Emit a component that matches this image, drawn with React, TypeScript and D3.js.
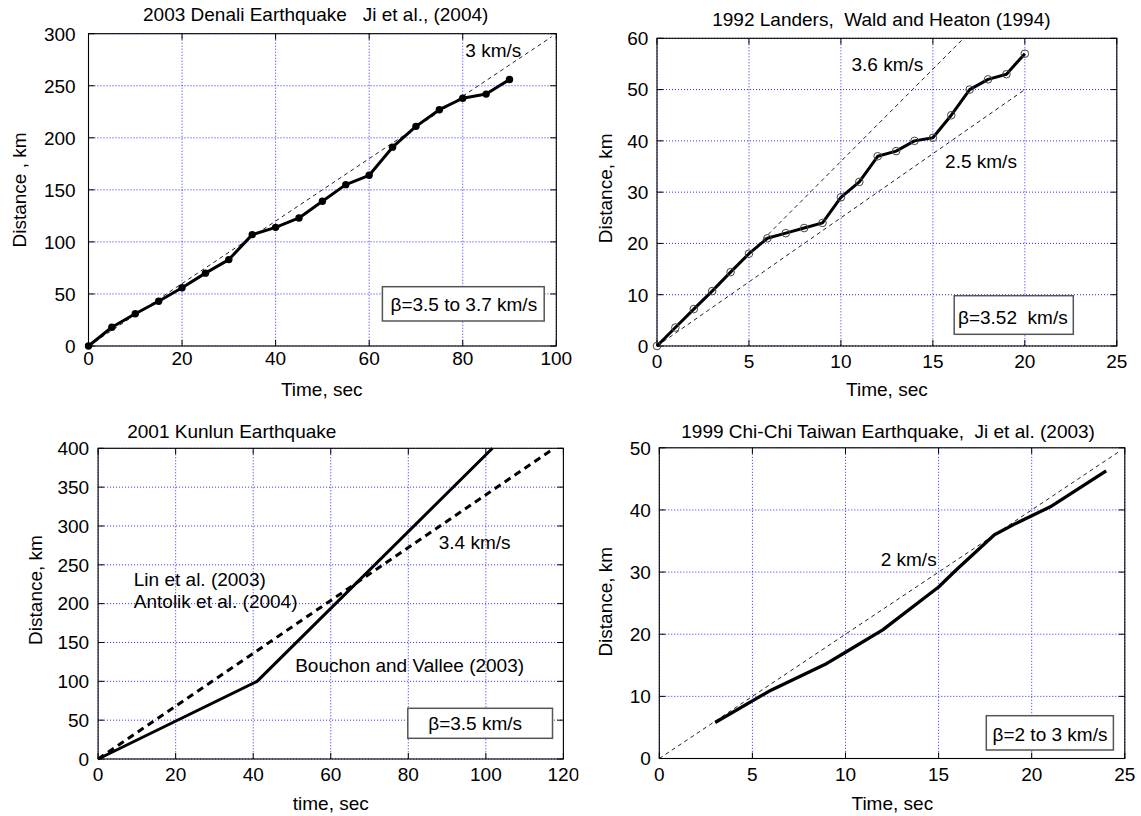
import React from 'react';
import * as d3 from 'd3';

// ---------- Data ----------
// Panel 1: 2003 Denali
const denaliTime = [0, 5, 10, 15, 20, 25, 30, 35, 40, 45, 50, 55, 60, 65, 70, 75, 80, 85, 90];
const denaliDist = [0, 18, 31, 43, 56, 70, 83, 107, 114, 123, 139, 155, 164, 191, 211, 227, 238, 242, 256];
const denaliRefTime = [0, 99];
const denaliRefDist = [0, 297];
const denaliXTicks = [0, 20, 40, 60, 80, 100];
const denaliYTicks = [0, 50, 100, 150, 200, 250, 300];

// Panel 2: 1992 Landers
const landersTime = [0, 1, 2, 3, 4, 5, 6, 7, 8, 9, 10, 11, 12, 13, 14, 15, 16, 17, 18, 19, 20];
const landersDist = [0, 3.6, 7.2, 10.7, 14.4, 18, 21, 22, 23, 24, 29, 32, 37, 38, 40, 40.6, 45, 50, 52, 53, 57];
const landersFastTime = [0, 16.67];
const landersFastDist = [0, 60];
const landersSlowTime = [0, 20];
const landersSlowDist = [0, 50];
const landersXTicks = [0, 5, 10, 15, 20, 25];
const landersYTicks = [0, 10, 20, 30, 40, 50, 60];

// Panel 3: 2001 Kunlun
const bouchonTime = [0, 41, 101.7];
const bouchonDist = [0, 100, 400];
const linTime = [0, 117.6];
const linDist = [0, 400];
const kunlunXTicks = [0, 20, 40, 60, 80, 100, 120];
const kunlunYTicks = [0, 50, 100, 150, 200, 250, 300, 350, 400];

// Panel 4: 1999 Chi-Chi
const chichiTime = [3, 6, 9, 10, 12, 15, 16, 18, 19, 21, 24];
const chichiDist = [5.8, 11, 15.3, 17.1, 20.7, 27.6, 30.5, 36, 37.6, 40.5, 46.3];
const chichiRefTime = [0, 24.7];
const chichiRefDist = [0, 49.4];
const chichiXTicks = [0, 5, 10, 15, 20, 25];
const chichiYTicks = [0, 10, 20, 30, 40, 50];

// ---------- Styling ----------
const FONT = 'Liberation Sans, Arial, Helvetica, sans-serif';
const FS = 19;
const GRID = '#2a2aff';

type Frame = { left: number; right: number; top: number; bottom: number };

function zip(a: number[], b: number[]): [number, number][] {
  return a.map((v, i) => [v, b[i]] as [number, number]);
}

function Txt(props: { x: number; y: number; anchor?: string; rotate?: boolean; children: any; size?: number }) {
  const { x, y, anchor = 'start', rotate = false, children, size = FS } = props;
  return (
    <text
      transform={rotate ? `translate(${x},${y}) rotate(-90)` : `translate(${x},${y})`}
      textAnchor={anchor as any}
      fontFamily={FONT}
      fontSize={size}
      fill="#000"
    >
      {children}
    </text>
  );
}

function Axes(props: {
  f: Frame;
  x: d3.ScaleLinear<number, number>;
  y: d3.ScaleLinear<number, number>;
  xTicks: number[];
  yTicks: number[];
  yTickRight: number;
  xTickBaseline: number;
}) {
  const { f, x, y, xTicks, yTicks, yTickRight, xTickBaseline } = props;
  const tl = 6;
  return (
    <g>
      {xTicks.map((t) => (
        <line key={'gx' + t} x1={x(t)} x2={x(t)} y1={f.top} y2={f.bottom} stroke={GRID} strokeWidth={1} strokeDasharray="1,2" />
      ))}
      {yTicks.map((t) => (
        <line key={'gy' + t} x1={f.left} x2={f.right} y1={y(t)} y2={y(t)} stroke={GRID} strokeWidth={1} strokeDasharray="1,2" />
      ))}
      <rect x={f.left} y={f.top} width={f.right - f.left} height={f.bottom - f.top} fill="none" stroke="#000" strokeWidth={1.1} />
      {xTicks.map((t) => (
        <g key={'tx' + t}>
          <line x1={x(t)} x2={x(t)} y1={f.bottom} y2={f.bottom - tl} stroke="#000" strokeWidth={1} />
          <line x1={x(t)} x2={x(t)} y1={f.top} y2={f.top + tl} stroke="#000" strokeWidth={1} />
        </g>
      ))}
      {yTicks.map((t) => (
        <g key={'ty' + t}>
          <line x1={f.left} x2={f.left + tl} y1={y(t)} y2={y(t)} stroke="#000" strokeWidth={1} />
          <line x1={f.right} x2={f.right - tl} y1={y(t)} y2={y(t)} stroke="#000" strokeWidth={1} />
        </g>
      ))}
      {xTicks.map((t) => (
        <Txt key={'lx' + t} x={x(t)} y={xTickBaseline} anchor="middle">{String(t)}</Txt>
      ))}
      {yTicks.map((t) => (
        <Txt key={'ly' + t} x={yTickRight} y={y(t) + 6.8} anchor="end">{String(t)}</Txt>
      ))}
    </g>
  );
}

function NoteBox(props: { x0: number; x1: number; y0: number; y1: number; tx: number; ty: number; text: string }) {
  const { x0, x1, y0, y1, tx, ty, text } = props;
  return (
    <g>
      <rect x={x0} y={y0} width={x1 - x0} height={y1 - y0} fill="#fff" stroke="#555" strokeWidth={1.5} />
      <Txt x={tx} y={ty}>{text}</Txt>
    </g>
  );
}

export default function App() {
  // Panel 1
  const f1: Frame = { left: 88.5, right: 556.3, top: 33.7, bottom: 346 };
  const x1 = d3.scaleLinear().domain([0, 100]).range([f1.left, f1.right]);
  const y1 = d3.scaleLinear().domain([0, 300]).range([f1.bottom, f1.top]);
  const l1 = d3.line<[number, number]>().x((d) => x1(d[0])).y((d) => y1(d[1]));

  // Panel 2
  const f2: Frame = { left: 657, right: 1116.8, top: 38.3, bottom: 346 };
  const x2 = d3.scaleLinear().domain([0, 25]).range([f2.left, f2.right]);
  const y2 = d3.scaleLinear().domain([0, 60]).range([f2.bottom, f2.top]);
  const l2 = d3.line<[number, number]>().x((d) => x2(d[0])).y((d) => y2(d[1]));

  // Panel 3
  const f3: Frame = { left: 98.1, right: 563.4, top: 448.3, bottom: 759 };
  const x3 = d3.scaleLinear().domain([0, 120]).range([f3.left, f3.right]);
  const y3 = d3.scaleLinear().domain([0, 400]).range([f3.bottom, f3.top]);
  const l3 = d3.line<[number, number]>().x((d) => x3(d[0])).y((d) => y3(d[1]));

  // Panel 4
  const f4: Frame = { left: 659.3, right: 1124.8, top: 447.8, bottom: 758.5 };
  const x4 = d3.scaleLinear().domain([0, 25]).range([f4.left, f4.right]);
  const y4 = d3.scaleLinear().domain([0, 50]).range([f4.bottom, f4.top]);
  const l4 = d3.line<[number, number]>().x((d) => x4(d[0])).y((d) => y4(d[1]));

  return (
    <svg width={1141} height={816} style={{ position: 'absolute', left: 0, top: 0, background: '#fff' }}>
      <defs>
        <clipPath id="clip3">
          <rect x={0} y={400} width={578.5} height={416} />
        </clipPath>
      </defs>

      {/* ---------- Panel 1 ---------- */}
      <Axes f={f1} x={x1} y={y1} xTicks={denaliXTicks} yTicks={denaliYTicks} yTickRight={75.6} xTickBaseline={365} />
      <path d={l1(zip(denaliRefTime, denaliRefDist)) || ''} fill="none" stroke="#222" strokeWidth={1} strokeDasharray="4,3.5" />
      <path d={l1(zip(denaliTime, denaliDist)) || ''} fill="none" stroke="#000" strokeWidth={3} strokeLinejoin="round" />
      {denaliTime.map((t, i) => (
        <circle key={'d' + i} cx={x1(t)} cy={y1(denaliDist[i])} r={3.7} fill="#000" />
      ))}
      <NoteBox x0={382.4} x1={544.2} y0={286.7} y1={321} tx={390.5} ty={310.5} text="β=3.5 to 3.7 km/s" />
      <Txt x={465.3} y={56.5}>3 km/s</Txt>
      <Txt x={315.7} y={20.5} anchor="middle">{'2003 Denali Earthquake\u00a0\u00a0\u00a0Ji et al., (2004)'}</Txt>
      <Txt x={321.7} y={396} anchor="middle">Time, sec</Txt>
      <Txt x={26} y={190} anchor="middle" rotate>Distance , km</Txt>

      {/* ---------- Panel 2 ---------- */}
      <Axes f={f2} x={x2} y={y2} xTicks={landersXTicks} yTicks={landersYTicks} yTickRight={648.3} xTickBaseline={368.3} />
      <path d={l2(zip(landersFastTime, landersFastDist)) || ''} fill="none" stroke="#222" strokeWidth={1} strokeDasharray="4,3.5" />
      <path d={l2(zip(landersSlowTime, landersSlowDist)) || ''} fill="none" stroke="#222" strokeWidth={1} strokeDasharray="4,3.5" />
      <path d={l2(zip(landersTime, landersDist)) || ''} fill="none" stroke="#000" strokeWidth={3} strokeLinejoin="round" />
      {landersTime.map((t, i) => (
        <circle key={'l' + i} cx={x2(t)} cy={y2(landersDist[i])} r={3.8} fill="none" stroke="#444" strokeWidth={1} />
      ))}
      <NoteBox x0={954.2} x1={1073.3} y0={295.7} y1={334.3} tx={958} ty={324} text={'β=3.52\u00a0\u00a0km/s'} />
      <Txt x={851.5} y={70.5}>3.6 km/s</Txt>
      <Txt x={945.1} y={168.3}>2.5 km/s</Txt>
      <Txt x={881.4} y={25.5} anchor="middle">{'1992 Landers,\u00a0\u00a0Wald and Heaton (1994)'}</Txt>
      <Txt x={886.9} y={396} anchor="middle">Time, sec</Txt>
      <Txt x={611.5} y={188.3} anchor="middle" rotate>Distance, km</Txt>

      {/* ---------- Panel 3 ---------- */}
      <g clipPath="url(#clip3)">
        <Axes f={f3} x={x3} y={y3} xTicks={kunlunXTicks} yTicks={kunlunYTicks} yTickRight={89.1} xTickBaseline={781} />
      </g>
      <path d={l3(zip(linTime, linDist)) || ''} fill="none" stroke="#000" strokeWidth={3} strokeDasharray="7,5" />
      <path d={l3(zip(bouchonTime, bouchonDist)) || ''} fill="none" stroke="#000" strokeWidth={3} strokeLinejoin="round" />
      <NoteBox x0={407.8} x1={552.5} y0={708.3} y1={738.3} tx={428.2} ty={730} text="β=3.5 km/s" />
      <Txt x={438.7} y={549.3}>3.4 km/s</Txt>
      <Txt x={133.8} y={585.5}>Lin et al. (2003)</Txt>
      <Txt x={133.8} y={608.3}>Antolik et al. (2004)</Txt>
      <Txt x={295.2} y={671.5}>Bouchon and Vallee (2003)</Txt>
      <Txt x={127.2} y={438.3}>2001 Kunlun Earthquake</Txt>
      <Txt x={330.8} y={809.5} anchor="middle">time, sec</Txt>
      <Txt x={41.5} y={590} anchor="middle" rotate>Distance, km</Txt>

      {/* ---------- Panel 4 ---------- */}
      <Axes f={f4} x={x4} y={y4} xTicks={chichiXTicks} yTicks={chichiYTicks} yTickRight={650.9} xTickBaseline={781} />
      <path d={l4(zip(chichiRefTime, chichiRefDist)) || ''} fill="none" stroke="#222" strokeWidth={1} strokeDasharray="4,3.5" />
      <path d={l4(zip(chichiTime, chichiDist)) || ''} fill="none" stroke="#000" strokeWidth={3.3} strokeLinejoin="round" />
      <NoteBox x0={986.3} x1={1113.4} y0={715.7} y1={750} tx={992.5} ty={740.5} text="β=2 to 3 km/s" />
      <Txt x={880.7} y={565.7}>2 km/s</Txt>
      <Txt x={888.1} y={438.3} anchor="middle">{'1999 Chi-Chi Taiwan Earthquake,\u00a0\u00a0Ji et al. (2003)'}</Txt>
      <Txt x={892.3} y={809.5} anchor="middle">Time, sec</Txt>
      <Txt x={611.5} y={601.7} anchor="middle" rotate>Distance, km</Txt>
    </svg>
  );
}
